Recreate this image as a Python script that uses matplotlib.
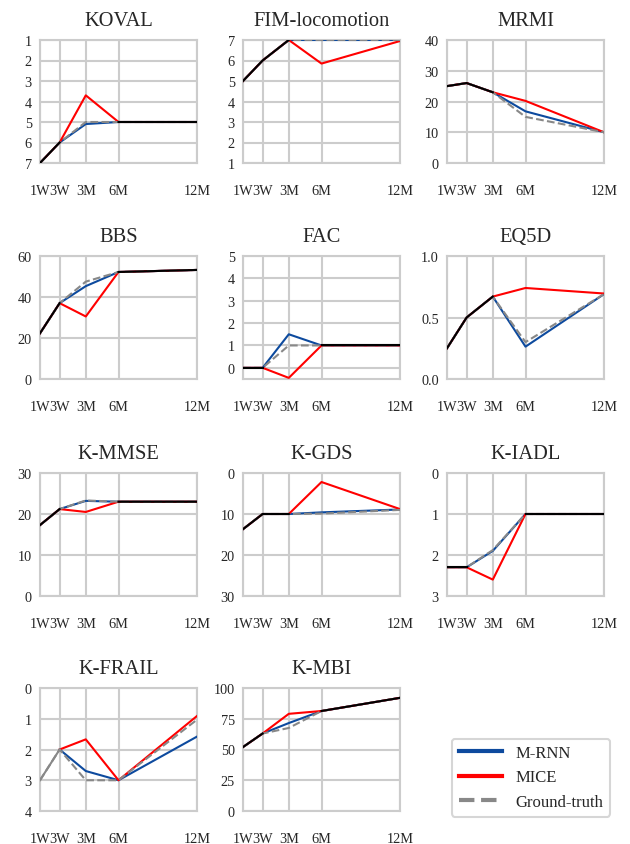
import numpy as np
import matplotlib
matplotlib.use("Agg")
import matplotlib.pyplot as plt
from matplotlib.lines import Line2D

plt.rcParams['font.family'] = 'serif'
plt.rcParams['font.serif'] = ['Liberation Serif', 'DejaVu Serif']

nan = np.nan
time_labels = ["1W", "3W", "3M", "6M", "12M"]
time_pos = [0, 1.5, 3.5, 6, 12]

titles = ["KOVAL", "FIM-locomotion", "MRMI", "BBS", "FAC", "EQ5D",
          "K-MMSE", "K-GDS", "K-IADL", "K-FRAIL", "K-MBI"]

observed = {
    "KOVAL": [7, 6, nan, 5, 5],
    "FIM-locomotion": [5, 6, 7, nan, nan],
    "MRMI": [25, 26, 23, nan, nan],
    "BBS": [22.3, 37, nan, 52.2, 53.2],
    "FAC": [0, 0, nan, 1, 1],
    "EQ5D": [0.25, 0.5, 0.67, nan, nan],
    "K-MMSE": [17.3, 21.2, nan, 23, 23],
    "K-GDS": [13.7, 10, 10, nan, nan],
    "K-IADL": [2.3, 2.3, nan, 1, 1],
    "K-FRAIL": [nan, 2, nan, 3, nan],
    "K-MBI": [52, 63, nan, 81.3, 92],
}
ground_truth = {
    "KOVAL": [nan, nan, 5.0, nan, nan],
    "FIM-locomotion": [nan, nan, nan, 7, 7],
    "MRMI": [nan, nan, nan, 15, 10],
    "BBS": [nan, nan, 47.5, nan, nan],
    "FAC": [nan, nan, 1, nan, nan],
    "EQ5D": [nan, nan, nan, 0.30, 0.69],
    "K-MMSE": [nan, nan, 23.3, nan, nan],
    "K-GDS": [nan, nan, nan, 9.9, 9.0],
    "K-IADL": [nan, nan, 1.88, nan, nan],
    "K-FRAIL": [3, nan, 3.0, nan, 1.03],
    "K-MBI": [nan, nan, 67.5, nan, nan],
}
mrnn = {
    "KOVAL": [nan, nan, 5.1, nan, nan],
    "FIM-locomotion": [nan, nan, nan, 7, 7],
    "MRMI": [nan, nan, nan, 16.8, 10],
    "BBS": [nan, nan, 45.3, nan, nan],
    "FAC": [nan, nan, 1.5, nan, nan],
    "EQ5D": [nan, nan, nan, 0.263, 0.69],
    "K-MMSE": [nan, nan, 23.2, nan, nan],
    "K-GDS": [nan, nan, nan, 9.6, 8.9],
    "K-IADL": [nan, nan, 1.9, nan, nan],
    "K-FRAIL": [nan, nan, 2.7, nan, 1.58],
    "K-MBI": [nan, nan, 71.5, nan, nan],
}
mice = {
    "KOVAL": [nan, nan, 3.7, nan, nan],
    "FIM-locomotion": [nan, nan, nan, 5.85, 6.95],
    "MRMI": [nan, nan, nan, 20.2, 10],
    "BBS": [nan, nan, 30.5, nan, nan],
    "FAC": [nan, nan, -0.45, nan, nan],
    "EQ5D": [nan, nan, nan, 0.74, 0.695],
    "K-MMSE": [nan, nan, 20.5, nan, nan],
    "K-GDS": [nan, nan, nan, 2.2, 8.8],
    "K-IADL": [nan, nan, 2.6, nan, nan],
    "K-FRAIL": [nan, nan, 1.67, nan, 0.91],
    "K-MBI": [nan, nan, 79, nan, nan],
}
y_limits = {
    "KOVAL": (7, 1), "FIM-locomotion": (1, 7), "MRMI": (0, 40), "BBS": (0, 60),
    "FAC": (-0.5, 5), "EQ5D": (0, 1), "K-MMSE": (0, 30), "K-GDS": (30, 0),
    "K-IADL": (3, 0), "K-FRAIL": (4, 0), "K-MBI": (0, 100),
}
y_ticks = {
    "KOVAL": [1, 2, 3, 4, 5, 6, 7], "FIM-locomotion": [1, 2, 3, 4, 5, 6, 7],
    "MRMI": [0, 10, 20, 30, 40], "BBS": [0, 20, 40, 60], "FAC": [0, 1, 2, 3, 4, 5],
    "EQ5D": [0.0, 0.5, 1.0], "K-MMSE": [0, 10, 20, 30], "K-GDS": [0, 10, 20, 30],
    "K-IADL": [0, 1, 2, 3], "K-FRAIL": [0, 1, 2, 3, 4], "K-MBI": [0, 25, 50, 75, 100],
}

C_MRNN = "#0d4a9e"
C_MICE = "#ff0000"
C_GT = "#888888"
C_GRID = "#cccccc"

W, H = 630, 845
fig = plt.figure(figsize=(W / 100, H / 100), dpi=100)
col_left = [40, 243, 447]
row_top = [41, 257, 474, 689]
aw, ah = 157, 123

for i, name in enumerate(titles):
    r, c = divmod(i, 3)
    ax = fig.add_axes([col_left[c] / W, 1 - (row_top[r] + ah) / H, aw / W, ah / H])
    x = np.array(time_pos, dtype=float)
    obs = np.array(observed[name], dtype=float)
    full = {}
    for key, d in (("mrnn", mrnn), ("mice", mice), ("gt", ground_truth)):
        arr = np.array(d[name], dtype=float)
        full[key] = np.where(np.isnan(obs), arr, obs)
    ax.plot(x, full["mrnn"], color=C_MRNN, lw=1.5, zorder=3)
    ax.plot(x, full["mice"], color=C_MICE, lw=1.5, zorder=3)
    ax.plot(x, full["gt"], color=C_GT, lw=1.5, ls="--", zorder=4)
    # ground-truth-only segments drawn solid
    for k in range(len(x) - 1):
        g = full["gt"][k:k + 2]
        m = full["mrnn"][k:k + 2]
        if not np.isnan(g).any() and np.isnan(m).any():
            ax.plot(x[k:k + 2], g, color=C_GT, lw=1.5, zorder=4)
    ax.plot(x, obs, color="black", lw=1.5, zorder=5)

    ax.set_xlim(0, 12)
    ax.set_xticks(time_pos)
    ax.set_xticklabels(time_labels)
    ax.set_ylim(*y_limits[name])
    ax.set_yticks(y_ticks[name])
    if name == "EQ5D":
        ax.set_yticklabels([f"{v:.1f}" for v in y_ticks[name]])
    ax.grid(True, color=C_GRID, lw=1.5)
    ax.set_axisbelow(True)
    for s in ax.spines.values():
        s.set_color(C_GRID)
        s.set_linewidth(1.5)
    ax.tick_params(axis="x", length=0, pad=15, labelsize=10.3, colors="#262626")
    ax.tick_params(axis="y", length=0, pad=6, labelsize=10.3, colors="#262626")
    ax.set_title(name, fontsize=14.8, pad=11, color="#262626")

handles = [Line2D([], [], color=C_MRNN, lw=3),
           Line2D([], [], color=C_MICE, lw=3),
           Line2D([], [], color=C_GT, lw=3, ls="--")]
leg = fig.legend(handles, ["M-RNN", "MICE", "Ground-truth"], loc="center",
                 bbox_to_anchor=(531 / W, 1 - 778.5 / H), fontsize=12,
                 frameon=True, fancybox=True, handlelength=2.6)
leg.get_frame().set_edgecolor(C_GRID)
leg.get_frame().set_linewidth(1.5)
for t in leg.get_texts():
    t.set_color("#262626")

fig.savefig("out.png", dpi=100)
